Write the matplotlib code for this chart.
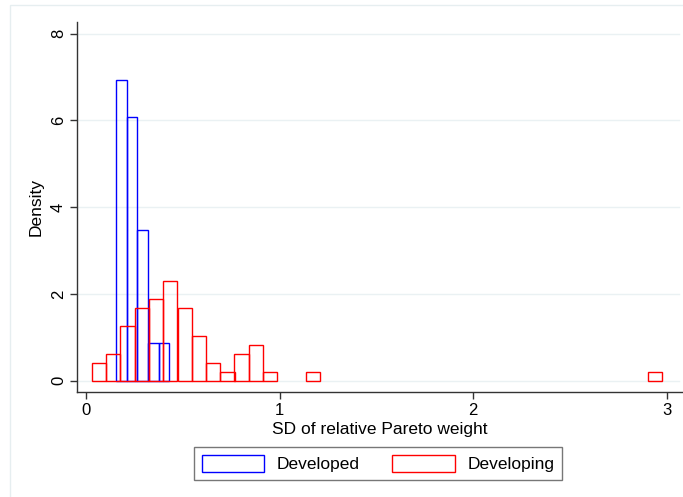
import matplotlib.pyplot as plt
from matplotlib.patches import Rectangle

# Developed: bin left edges and densities
dev_left = [0.155, 0.210, 0.265, 0.320, 0.375]
dev_width = 0.055
dev_density = [6.94, 6.07, 3.47, 0.87, 0.87]

# Developing: bin left edges (non-empty bins only) and densities
devg_left = [0.031, 0.105, 0.178, 0.252, 0.326, 0.399, 0.473, 0.547,
             0.620, 0.694, 0.767, 0.841, 0.914, 1.135, 2.900]
devg_width = 0.0736
devg_density = [0.415, 0.62, 1.25, 1.67, 1.875, 2.29, 1.67, 1.04,
                0.415, 0.207, 0.62, 0.83, 0.207, 0.207, 0.207]

xticks = [0, 1, 2, 3]
yticks = [0, 2, 4, 6, 8]

plt.rcParams["font.family"] = ["Liberation Sans", "DejaVu Sans"]

fig = plt.figure(figsize=(6.83, 4.97), dpi=100)
W, H = 683, 497

# light outer graph-region frame
fig.add_artist(Rectangle((9.5 / W, -0.1), 1.2, (497 - 4.5) / H + 0.1,
                         transform=fig.transFigure, fill=False,
                         edgecolor="#e6eef0", lw=1.0))

ax = fig.add_axes([77 / W, (H - 392) / H, (682 - 77) / W, (392 - 22) / H])

for y in yticks:
    ax.axhline(y, xmax=0.995, color="#eaf1f3", lw=1.0, zorder=0)

ax.bar(dev_left, dev_density, width=dev_width, align="edge", fill=False,
       edgecolor="#0000ff", lw=1.0, label="Developed", zorder=2)
ax.bar(devg_left, devg_density, width=devg_width, align="edge", fill=False,
       edgecolor="#ff0000", lw=1.0, label="Developing", zorder=3)

ax.set_xlim(-0.046, 3.078)
ax.set_ylim(-0.26, 8.265)
ax.set_xticks(xticks)
ax.set_yticks(yticks)
ax.set_yticklabels([str(v) for v in yticks], rotation=90, va="center")

for side in ["top", "right"]:
    ax.spines[side].set_visible(False)
for side in ["left", "bottom"]:
    ax.spines[side].set_color("#333333")
    ax.spines[side].set_linewidth(1.0)
ax.tick_params(direction="out", length=5, width=1.0, color="#333333",
               labelsize=12, pad=3)

ax.set_xlabel("SD of relative Pareto weight", fontsize=12.5, labelpad=3)
ax.set_ylabel("Density", fontsize=12.5, labelpad=5)

leg = fig.legend(loc="center", bbox_to_anchor=(378 / W, 1 - 463.5 / H),
                 ncol=2, fontsize=12.5, frameon=True, fancybox=False,
                 edgecolor="#555555", handlelength=3.6, handleheight=1.1,
                 columnspacing=1.9, handletextpad=0.7, borderpad=0.45)
leg.get_frame().set_linewidth(1.0)

fig.savefig("out.png", dpi=100)
